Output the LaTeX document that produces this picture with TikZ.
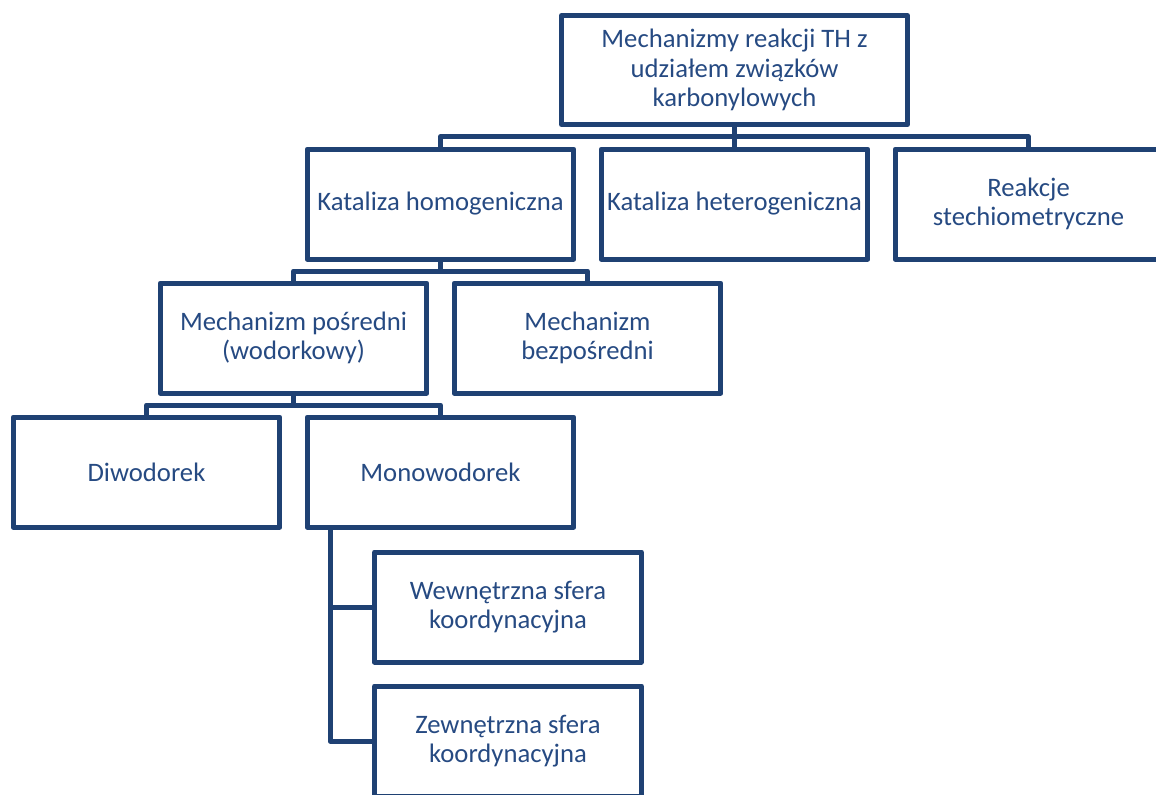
\documentclass[tikz,border=0pt]{standalone}
\usepackage{fontspec}
\setmainfont{Carlito}
\usepackage{tikz}
\usetikzlibrary{positioning,calc}
\usepackage{xcolor}
\definecolor{thblue}{RGB}{31,65,115}
\definecolor{thtext}{RGB}{38,74,130}
\tikzstyle{mbox} = [rectangle, minimum width=200pt, minimum height=82.5pt, inner sep=0pt, align=center, draw=thblue, line width=3.75pt, line join=round, text=thtext, font=\fontsize{20}{22}\selectfont]
\tikzstyle{conn} = [draw=thblue, line width=3.75pt, line join=round]

\begin{document}
\begin{tikzpicture}[x=0.75pt, y=-0.75pt, node distance=100.5pt and 220.5pt, on grid]
\useasboundingbox (0,0) rectangle (1156,794);
% Tree nodes
\node (root) [mbox, minimum width=259.5pt, minimum height=81.75pt] at (734.5,70) {Mechanizmy reakcji TH z\\udziałem związków\\karbonylowych};
\node (hetero) [mbox, below=of root] {Kataliza heterogeniczna};
\node (homo) [mbox, left=of hetero] {Kataliza homogeniczna};
\node (stech) [mbox, right=of hetero] {Reakcje\\stechiometryczne};
\node (posr) [mbox, below left=100.5pt and 110.25pt of homo] {Mechanizm pośredni\\(wodorkowy)};
\node (bezp) [mbox, right=of posr] {Mechanizm\\bezpośredni};
\node (diwo) [mbox, below left=100.5pt and 110.25pt of posr] {Diwodorek};
\node (mono) [mbox, below right=100.5pt and 110.25pt of posr] {Monowodorek};
\node (wew) [mbox, below right=101.25pt and 50.6pt of mono] {Wewnętrzna sfera\\koordynacyjna};
\node (zew) [mbox, below=of wew] {Zewnętrzna sfera\\koordynacyjna};

% Connectors
\coordinate (bus1) at ($(root.south)!0.5!(hetero.north)$);
\draw[conn] (root.south) -- (bus1) -- (hetero.north);
\draw[conn] (homo.north) |- (bus1) -| (stech.north);
\coordinate (bus2) at ($(homo.south)!0.5!(homo.south |- posr.north)$);
\draw[conn] (homo.south) -- (bus2);
\draw[conn] (posr.north) |- (bus2) -| (bezp.north);
\coordinate (bus3) at ($(posr.south)!0.5!(posr.south |- diwo.north)$);
\draw[conn] (posr.south) -- (bus3);
\draw[conn] (diwo.north) |- (bus3) -| (mono.north);
\coordinate (spine) at ($(mono.south west)+(25.5,0)$);
\draw[conn] (spine) |- (wew.west);
\draw[conn] (spine) |- (zew.west);
\end{tikzpicture}
\end{document}
